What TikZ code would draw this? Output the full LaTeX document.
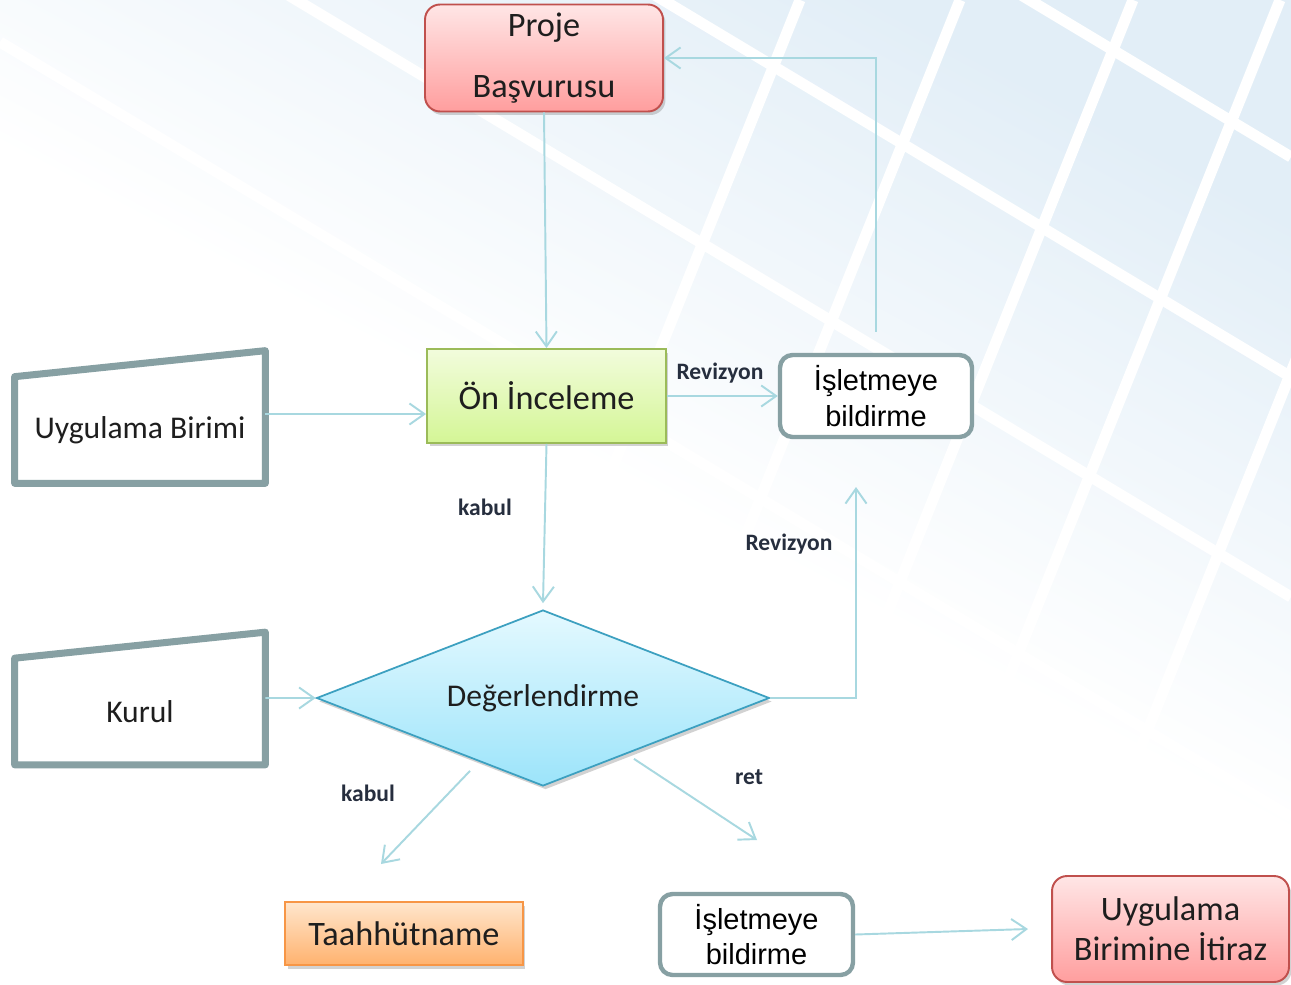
\documentclass[tikz,border=0pt]{standalone}
\usepackage{fontspec}
\setmainfont{Carlito}
\newfontfamily\arialschrift{Liberation Sans}
\usetikzlibrary{shapes.geometric,arrows.meta,shadows}

\definecolor{pfeilfarbe}{RGB}{168,216,224}
\definecolor{randgrau}{RGB}{135,160,163}
\definecolor{rotrand}{RGB}{192,80,77}
\definecolor{rotoben}{RGB}{255,230,230}
\definecolor{rotunten}{RGB}{255,158,158}
\definecolor{gruenrand}{RGB}{155,187,89}
\definecolor{gruenoben}{RGB}{242,252,220}
\definecolor{gruenunten}{RGB}{212,246,150}
\definecolor{blaurand}{RGB}{60,160,192}
\definecolor{blauoben}{RGB}{228,249,255}
\definecolor{blauunten}{RGB}{156,228,250}
\definecolor{orangerand}{RGB}{247,150,70}
\definecolor{orangeoben}{RGB}{255,230,205}
\definecolor{orangeunten}{RGB}{255,178,110}
\definecolor{hintergrund}{RGB}{226,238,247}
\definecolor{schrift}{RGB}{30,30,30}
\definecolor{etikett}{RGB}{38,46,62}

\tikzset{
    schatten/.style={drop shadow={opacity=0.35, shadow xshift=0.05cm, shadow yshift=-0.07cm}},
    kasten/.style={rectangle, line width=1.1pt, align=center, text=schrift, schatten,
        font=\fontsize{19.5}{23}\selectfont},
    rotkasten/.style={kasten, rounded corners=0.3cm, draw=rotrand, top color=rotoben, bottom color=rotunten},
    meldung/.style={rectangle, rounded corners=0.25cm, draw=randgrau, line width=2.5pt, fill=white,
        align=center, text=black, font=\arialschrift\fontsize{16.5}{20}\selectfont},
    eingabe/.style={draw=randgrau, line width=4pt, line join=round},
    eingabetext/.style={minimum width=5cm, minimum height=2.12cm, text=schrift,
        font=\fontsize{18}{22}\selectfont},
    pfeil/.style={draw=pfeilfarbe, line width=1.1pt, -{Straight Barb[length=8.5pt,width=12pt]}},
    etikett/.style={text=etikett, font=\bfseries\fontsize{13.4}{16}\selectfont}
}

\begin{document}
\begin{tikzpicture}[x=0.02cm,y=-0.02cm]
    % Hintergrund
    \fill[white] (0,0) rectangle (1291,984);
    \useasboundingbox (0,0) rectangle (1291,984);
    \shade[top color=hintergrund, bottom color=white, middle color=white, shading angle=-28] (0,0) rectangle (1291,984);
    \begin{scope}
        \clip (0,0) rectangle (1291,984);
        \foreach \k in {-250,-30,190,410,630}
            \draw[white, line width=0.22cm] (0,\k-588) -- (1291,\k+187);
        \foreach \k in {800,960,1133,1280,1440}
            \draw[white, line width=0.22cm] (\k,0) -- (\k-394,984);
    \end{scope}

    % Kaesten
    \node[rotkasten, minimum width=4.76cm, minimum height=2.14cm,
          font=\fontsize{19.5}{34.7}\selectfont] (proje) at (544,58) {Proje\\Başvurusu};
    \node[kasten, draw=gruenrand, top color=gruenoben, bottom color=gruenunten,
          minimum width=4.78cm, minimum height=1.88cm] (oninceleme) at (546.5,396) {Ön İnceleme};
    \node[meldung, minimum width=3.84cm, minimum height=1.64cm] (isletme) at (876,396) {İşletmeye\\bildirme};
    \node[diamond, aspect=2.57, minimum width=9.06cm, minimum height=3.52cm, inner sep=0pt,
          draw=blaurand, line width=1pt, top color=blauoben, bottom color=blauunten, schatten,
          text=schrift, font=\fontsize{18}{22}\selectfont] (degerlendirme) at (543,698) {Değerlendirme};
    \node[kasten, draw=orangerand, top color=orangeoben, bottom color=orangeunten,
          minimum width=4.76cm, minimum height=1.26cm] (taahhut) at (404,933.5) {Taahhütname};
    \node[meldung, minimum width=3.86cm, minimum height=1.62cm] (isletmealt) at (756.5,934.5) {İşletmeye\\bildirme};
    \node[rotkasten, minimum width=4.74cm, minimum height=2.12cm,
          font=\fontsize{19.5}{22.8}\selectfont] (itiraz) at (1170.5,929) {Uygulama\\Birimine İtiraz};

    % Eingaben
    \node[eingabetext] (uygulama) at (140,430) {Uygulama Birimi};
    \draw[eingabe] (uygulama.south west) -- (uygulama.north west) -- ([yshift=0.52cm]uygulama.north east)
        -- (uygulama.south east) -- cycle;
    \node[eingabetext] (kurul) at (140,711.5) {Kurul};
    \draw[eingabe] (kurul.south west) -- (kurul.north west) -- ([yshift=0.52cm]kurul.north east)
        -- (kurul.south east) -- cycle;

    % Verbindungen
    \coordinate (revende) at (856,487);
    \coordinate (kabulende) at (381,864);
    \coordinate (retende) at (757,840);
    \coordinate (itirazende) at (1028,929);
    \draw[pfeil] (proje.south) -- (oninceleme.north);
    \draw[pfeil] ([yshift=0.32cm]uygulama.east) -- ([yshift=0.32cm]uygulama.east -| oninceleme.west);
    \draw[pfeil] (oninceleme.east) -- (isletme.west);
    \draw[pfeil] ([yshift=0.42cm]isletme.north) |- (proje.east);
    \draw[pfeil] (oninceleme.south) -- ([yshift=0.12cm]degerlendirme.north);
    \draw[pfeil] (degerlendirme.east) -| (revende);
    \draw[pfeil] ([yshift=0.27cm]kurul.east) -- (degerlendirme.west);
    \draw[pfeil] ([xshift=-1.46cm,yshift=0.32cm]degerlendirme.south) -- (kabulende);
    \draw[pfeil] ([xshift=1.82cm,yshift=0.56cm]degerlendirme.south) -- (retende);
    \draw[pfeil] (isletmealt.east) -- (itirazende);

    % Beschriftungen
    \node[etikett] (revizyon1) at (720,373) {Revizyon};
    \node[etikett] (kabul1) at (485,507) {kabul};
    \node[etikett] (revizyon2) at (789,544) {Revizyon};
    \node[etikett] (kabul2) at (368,793) {kabul};
    \node[etikett] (ret) at (749,777) {ret};
\end{tikzpicture}
\end{document}
